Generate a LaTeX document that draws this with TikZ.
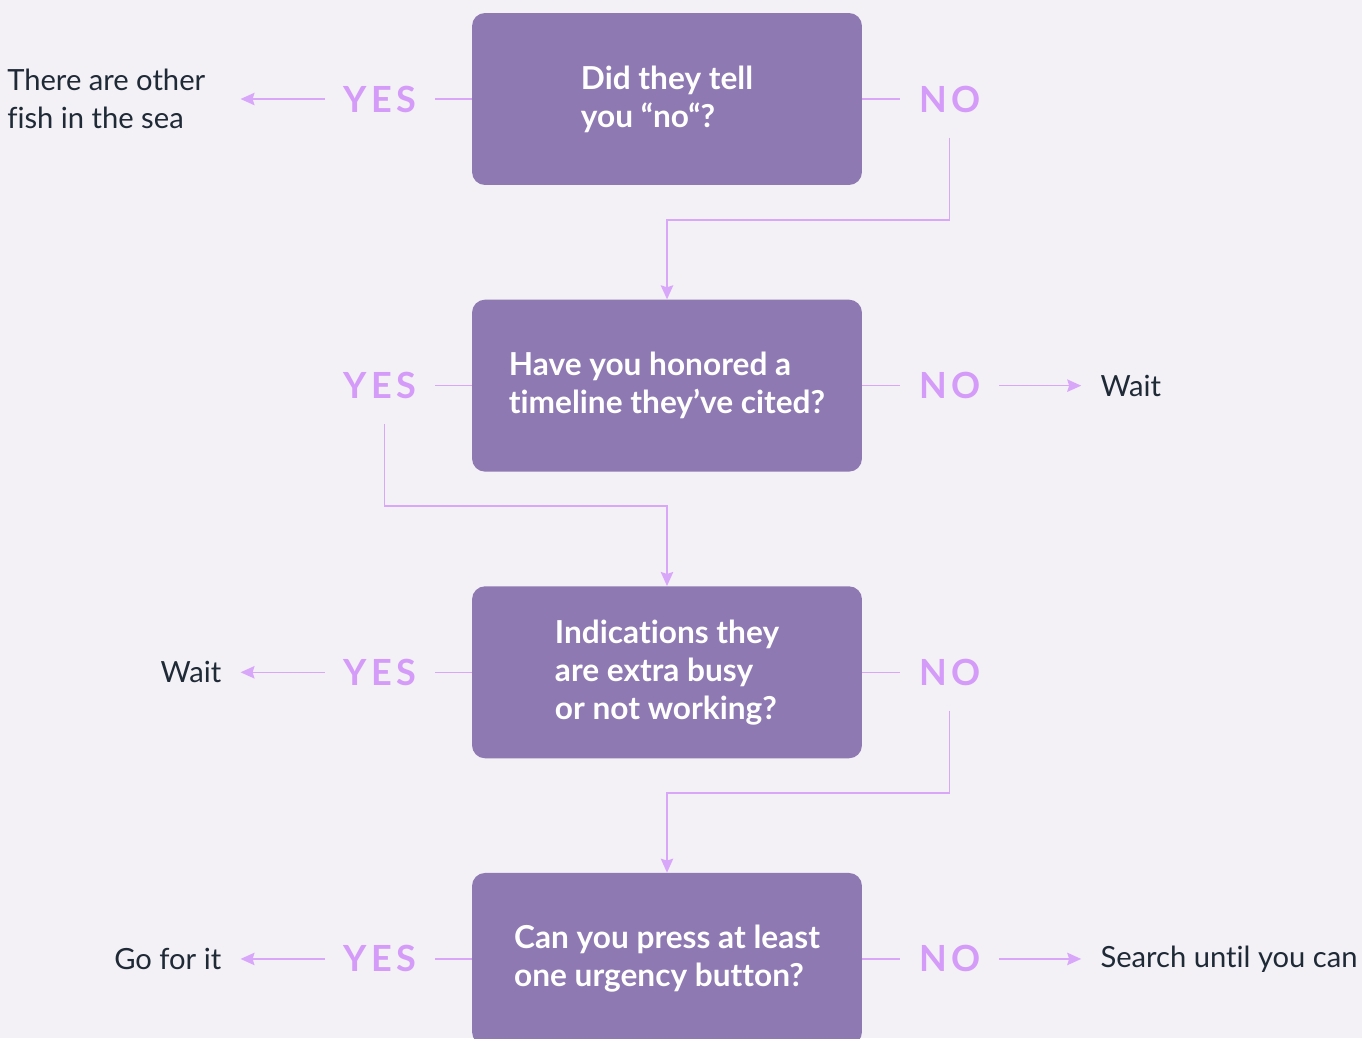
\documentclass[tikz,border=0pt]{standalone}
\usepackage{fontspec}
\setmainfont{Lato}[Ligatures=NoCommon]
\newfontfamily\tagfont[LetterSpace=12]{Lato}
\usetikzlibrary{positioning,arrows.meta}
\definecolor{pagebg}{HTML}{F3F0F6}
\definecolor{boxfill}{HTML}{8E79B2}
\definecolor{accent}{HTML}{D49BF8}
\definecolor{linecol}{HTML}{D9A7FA}
\definecolor{ink}{HTML}{1F2A37}

\begin{document}
\begin{tikzpicture}[x=0.02cm,y=-0.02cm,node distance=2.28cm,
  question/.style={rectangle,rounded corners=0.26cm,fill=boxfill,text=white,
    font=\fontsize{18}{21.6}\selectfont\bfseries,align=left,
    minimum width=7.8cm,minimum height=3.44cm},
  tag/.style={font=\tagfont\fontsize{20.5}{24}\selectfont\bfseries,
    text=accent,inner xsep=0.37cm,inner ysep=0.5cm},
  outcome/.style={font=\fontsize{16.6}{22}\selectfont,text=ink,
    align=left,inner xsep=0.38cm},
  link/.style={draw=linecol,line width=0.75pt},
  arrow/.style={link,-{Stealth[length=0.28cm,width=0.25cm,inset=0.04cm,fill=linecol]}}]

  \clip (0,0) rectangle (1362,1038);
  \useasboundingbox (0,0) rectangle (1362,1038);
  \fill[pagebg] (0,0) rectangle (1362,1038);

  % questions
  \node[question] (q1) at (667,99) {Did they tell\\you “no“?};
  \node[question] (q2) [below=of q1] {Have you honored a\\timeline they’ve cited?};
  \node[question] (q3) [below=of q2] {Indications they\\are extra busy\\or not working?};
  \node[question] (q4) [below=of q3] {Can you press at least\\one urgency button?};

  % yes / no
  \node[tag] (y1) [left=0.74cm of q1] {YES};
  \node[tag] (y2) [left=0.74cm of q2] {YES};
  \node[tag] (y3) [left=0.74cm of q3] {YES};
  \node[tag] (y4) [left=0.74cm of q4] {YES};
  \node[tag] (n1) [right=0.76cm of q1] {NO};
  \node[tag] (n2) [right=0.76cm of q2] {NO};
  \node[tag] (n3) [right=0.76cm of q3] {NO};
  \node[tag] (n4) [right=0.76cm of q4] {NO};

  % outcomes
  \node[outcome,inner xsep=0.7cm] (o1) [left=1.68cm of y1] {There are other\\fish in the sea};
  \node[outcome] (o2) [right=1.64cm of n2] {Wait};
  \node[outcome] (o3) [left=1.68cm of y3] {Wait};
  \node[outcome] (o4) [left=1.68cm of y4] {Go for it};
  \node[outcome] (o5) [right=1.64cm of n4] {Search until you can};

  % levels of the elbows
  \coordinate (k1) at (0,220);
  \coordinate (k2) at (0,506);
  \coordinate (k3) at (0,793);

  \draw[link] (q1.west) -- (y1.east);
  \draw[link] (q2.west) -- (y2.east);
  \draw[link] (q3.west) -- (y3.east);
  \draw[link] (q4.west) -- (y4.east);
  \draw[link] (q1.east) -- (n1.west);
  \draw[link] (q2.east) -- (n2.west);
  \draw[link] (q3.east) -- (n3.west);
  \draw[link] (q4.east) -- (n4.west);

  \draw[arrow] (y1) -- (o1);
  \draw[arrow] (y3) -- (o3);
  \draw[arrow] (y4) -- (o4);
  \draw[arrow] (n2) -- (o2);
  \draw[arrow] (n4) -- (o5);

  \draw[arrow] (n1.south) |- (k1 -| q2.north) -- (q2.north);
  \draw[arrow] ([xshift=0.1cm]y2.south) |- (k2 -| q3.north) -- (q3.north);
  \draw[arrow] (n3.south) |- (k3 -| q4.north) -- (q4.north);
\end{tikzpicture}
\end{document}
